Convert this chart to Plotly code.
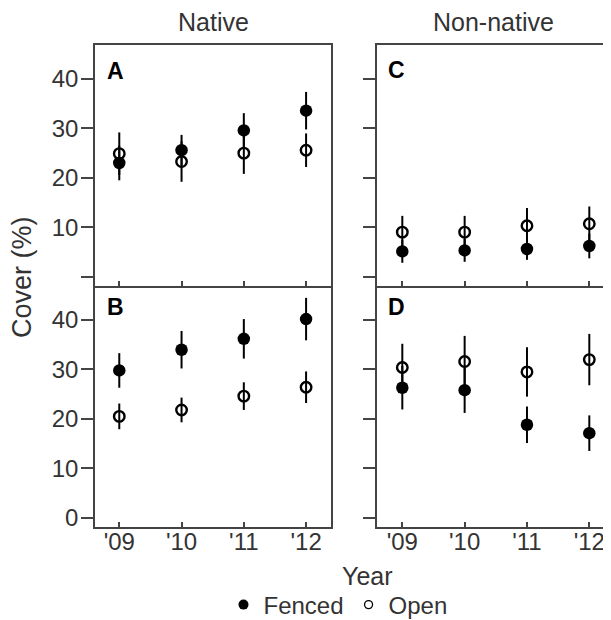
import plotly.graph_objects as go
from plotly.subplots import make_subplots

years = [2009, 2010, 2011, 2012]
year_labels = ["'09", "'10", "'11", "'12"]

# Panel A (Native, top row)
a_fenced = [23.0, 25.6, 29.6, 33.6]
a_fenced_err = [3.5, 3.1, 3.5, 3.8]
a_open = [24.9, 23.3, 25.0, 25.6]
a_open_err = [4.3, 4.1, 4.2, 3.4]
# Panel B (Native, bottom row)
b_fenced = [29.8, 34.0, 36.2, 40.2]
b_fenced_err = [3.5, 3.8, 4.0, 4.3]
b_open = [20.5, 21.8, 24.6, 26.4]
b_open_err = [2.6, 2.5, 2.8, 3.2]
# Panel C (Non-native, top row)
c_fenced = [5.1, 5.3, 5.6, 6.2]
c_fenced_err = [2.3, 2.3, 2.2, 2.5]
c_open = [9.0, 9.0, 10.3, 10.7]
c_open_err = [3.3, 3.3, 3.6, 3.5]
# Panel D (Non-native, bottom row)
d_fenced = [26.3, 25.8, 18.8, 17.1]
d_fenced_err = [4.4, 4.6, 3.7, 3.6]
d_open = [30.4, 31.6, 29.5, 32.0]
d_open_err = [4.8, 5.2, 5.0, 5.2]

y_ticks = [0, 10, 20, 30, 40]
y_labels_top = ["", "10", "20", "30", "40"]
y_labels_bottom = ["0", "10", "20", "30", "40"]

FONT = "Liberation Sans, Arial, sans-serif"
TXT = "#333333"
AX = "#444444"

fig = make_subplots(rows=2, cols=2)

panels = [
    (1, 1, a_fenced, a_fenced_err, a_open, a_open_err),
    (1, 2, c_fenced, c_fenced_err, c_open, c_open_err),
    (2, 1, b_fenced, b_fenced_err, b_open, b_open_err),
    (2, 2, d_fenced, d_fenced_err, d_open, d_open_err),
]

for r, c, fv, fe, ov, oe in panels:
    fig.add_trace(go.Scatter(
        x=years, y=fv, mode="markers", showlegend=False,
        marker=dict(symbol="circle", size=12.5, color="black", line=dict(width=0)),
        error_y=dict(type="data", array=fe, color="black", thickness=2, width=0),
    ), row=r, col=c)
    fig.add_trace(go.Scatter(
        x=years, y=ov, mode="markers", showlegend=False,
        marker=dict(symbol="circle-open", size=10.5, color="black", line=dict(width=2.4, color="black")),
        error_y=dict(type="data", array=oe, color="black", thickness=2, width=0),
    ), row=r, col=c)

# legend entries
fig.add_trace(go.Scatter(x=[None], y=[None], mode="markers", name="Fenced",
                         marker=dict(symbol="circle", size=10, color="black")))
fig.add_trace(go.Scatter(x=[None], y=[None], mode="markers", name="Open",
                         marker=dict(symbol="circle-open", size=8, color="black", line=dict(width=1.3))))

# page body has an 8px margin: work in screen pixels and convert
OFF = 8
W, H = 611 - OFF, 620 - OFF


def sx(X):
    return (X - OFF) / W


def sy(Y):
    return 1 - (Y - OFF) / H


xl = [sx(95), sx(331)]
xr = [sx(377), 1.0]
yt = [sy(286), sy(45)]
yb = [sy(527), sy(286)]
xr_left = [2008.61, 2012.40]
xr_right = [2008.594, 2012.348]
yrange = [-1.9, 46.9]

common_x = dict(showline=True, linecolor=AX, linewidth=1.5, ticks="inside", ticklen=5,
                tickcolor=AX, tickwidth=1.5, showgrid=False, zeroline=False,
                tickvals=years, ticktext=year_labels, ticklabelstandoff=-8,
                tickfont=dict(family=FONT, size=24, color=TXT))
common_y = dict(showline=True, linecolor=AX, linewidth=1.5, ticks="outside", ticklen=12,
                tickcolor=AX, tickwidth=1.5, showgrid=False, zeroline=False,
                tickvals=y_ticks, range=yrange, ticklabelstandoff=-2,
                tickfont=dict(family=FONT, size=24, color=TXT))

fig.update_layout(
    xaxis=dict(common_x, domain=xl, range=xr_left, mirror=True, showticklabels=False),
    xaxis2=dict(common_x, domain=xr, range=xr_right, mirror=True, showticklabels=False),
    xaxis3=dict(common_x, domain=xl, range=xr_left, mirror=False, showticklabels=True),
    xaxis4=dict(common_x, domain=xr, range=xr_right, mirror=False, showticklabels=True),
    yaxis=dict(common_y, domain=yt, ticktext=y_labels_top, mirror=True),
    yaxis2=dict(common_y, domain=yt, ticktext=y_labels_top, showticklabels=False),
    yaxis3=dict(common_y, domain=yb, ticktext=y_labels_bottom, mirror=True),
    yaxis4=dict(common_y, domain=yb, ticktext=y_labels_bottom, showticklabels=False),
)

ann = [
    dict(text="Native", x=213, y=22, size=25, bold=False),
    dict(text="Non-native", x=493, y=22, size=25, bold=False),
    dict(text="A", x=115, y=71, size=23, bold=True),
    dict(text="C", x=396, y=70, size=23, bold=True),
    dict(text="B", x=115, y=307, size=23, bold=True),
    dict(text="D", x=396, y=307, size=23, bold=True),
    dict(text="Year", x=368, y=576, size=25, bold=False),
]
annotations = []
for a in ann:
    annotations.append(dict(
        text=("<b>%s</b>" % a["text"]) if a["bold"] else a["text"],
        x=sx(a["x"]), y=sy(a["y"]), xref="paper", yref="paper", xanchor="center", yanchor="middle",
        showarrow=False, font=dict(family=FONT, size=a["size"], color="black" if a["bold"] else TXT)))
annotations.append(dict(text="Cover (%)", x=sx(22), y=sy(277), xref="paper", yref="paper",
                        xanchor="center", yanchor="middle", textangle=-90, showarrow=False,
                        font=dict(family=FONT, size=27, color=TXT)))

fig.update_layout(
    width=W, height=H,
    margin=dict(l=0, r=0, t=0, b=0, autoexpand=False),
    paper_bgcolor="white", plot_bgcolor="white",
    annotations=annotations,
    showlegend=True,
    legend=dict(orientation="h", x=sx(338), y=sy(605), xanchor="center", yanchor="middle",
                font=dict(family=FONT, size=24, color=TXT), bgcolor="rgba(0,0,0,0)",
                itemsizing="trace", tracegroupgap=0),
)

fig.write_html("out.html")
